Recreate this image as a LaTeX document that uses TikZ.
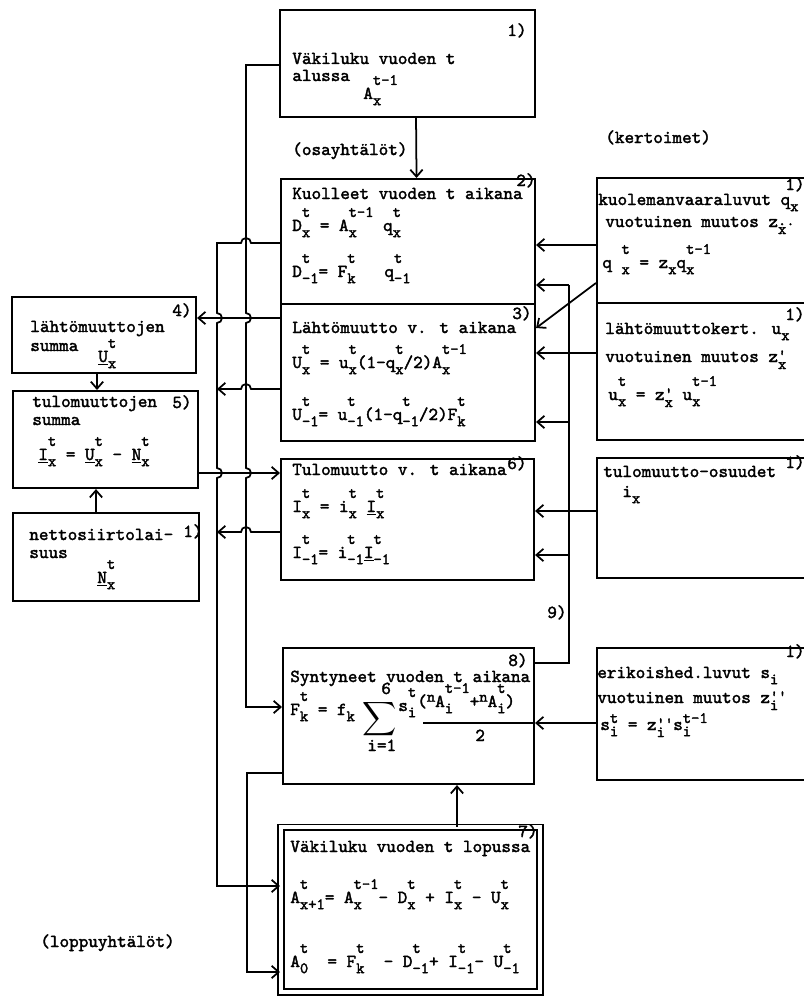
\documentclass[tikz,border=0pt]{standalone}
\usetikzlibrary{arrows.meta}

\font\kirj="[lmmono10-regular]:embolden=2" at 10.4pt
\font\kirjp="[lmmono10-regular]:embolden=2" at 9pt
\newcommand\tyyli{\kirj}
% ylä- ja alaindeksi päällekkäin
\newcommand\skripti[4]{%
  \setbox0=\hbox{\kirjp\raisebox{#1}{#3}}%
  \setbox2=\hbox{\kirjp\raisebox{-#2}{#4}}%
  \ifdim\wd0>\wd2 \rlap{\box2}\box0 \else \rlap{\box0}\box2 \fi}
\newcommand\su{\skripti{8pt}{3.5pt}}
\newcommand\pr[2]{\skripti{1pt}{4pt}{#1}{#2}}

\tikzset{
  laatikko/.style={draw,rectangle,line width=1.2pt,anchor=north west,inner sep=0pt},
  rivi/.style={anchor=base west,inner sep=0pt,font=\tyyli},
  viiva/.style={line width=1pt},
  nuoli/.style={viiva,-{Straight Barb[length=4pt,width=7pt]}}
}

\begin{document}
\begin{tikzpicture}[x=0.02cm,y=-0.02cm]
\useasboundingbox (0,0) rectangle (804,997);
\clip (0,0) rectangle (804,997);

% osayhtalot
\node[laatikko,minimum width=5.10cm,minimum height=2.14cm] (alku) at (279,9) {};
\node[laatikko,minimum width=5.08cm,minimum height=2.50cm] (kuol) at (280,178) {};
\node[laatikko,minimum width=5.08cm,minimum height=2.74cm] (lahto) at (280,303) {};
\node[laatikko,minimum width=5.06cm,minimum height=2.42cm] (tulo) at (280,458) {};
\node[laatikko,minimum width=5.02cm,minimum height=2.72cm] (synt) at (282,647) {};
\node[laatikko,line width=1pt,double,double distance=2.4pt,minimum width=5.18cm,minimum height=3.30cm] (loppu) at (280,826.5) {};

% summat vasemmalla
\node[laatikko,minimum width=3.68cm,minimum height=1.52cm] (lsum) at (11,296) {};
\node[laatikko,minimum width=3.70cm,minimum height=1.94cm] (tsum) at (12,390) {};
\node[laatikko,minimum width=3.72cm,minimum height=1.76cm] (netto) at (12,512) {};

% kertoimet oikealla
\node[laatikko,minimum width=4.24cm,minimum height=2.50cm] (qbox) at (596,177) {};
\node[laatikko,minimum width=4.24cm,minimum height=2.74cm] (ubox) at (596,302) {};
\node[laatikko,minimum width=4.24cm,minimum height=2.40cm] (ibox) at (596,457) {};
\node[laatikko,minimum width=4.24cm,minimum height=2.64cm] (sbox) at (596,647) {};

% otsikot
\node[rivi] (osa) at (292,155) {(osayhtälöt)};
\node[rivi] (kert) at (605,143) {(kertoimet)};
\node[rivi] (loppuyht) at (40,947) {(loppuyhtälöt)};
\node[rivi] (yhd9) at (547,618) {9)};

% tekstit
\node[rivi] (alku-nro) at (507,36) {1)};
\node[rivi] (alku-r1) at (292,64) {Väkiluku vuoden t};
\node[rivi] (alku-r2) at (292,81) {alussa};
\node[rivi] (alku-r3) at (363,99) {A\su{t-1}{x}};

\node[rivi] (kuol-nro) at (516,186) {2)};
\node[rivi] (kuol-r1) at (292,199) {Kuolleet vuoden t aikana};
\node[rivi] (kuol-r2) at (292,231) {D\su{t}{x} = A\su{t-1}{x} q\su{t}{x}};
\node[rivi] (kuol-r3) at (292,277) {D\su{t}{-1}= F\su{t}{k}\ \ \ q\su{t}{-1}};

\node[rivi] (lahto-nro) at (512,319) {3)};
\node[rivi] (lahto-r1) at (292,333) {Lähtömuutto v. t aikana};
\node[rivi] (lahto-r2) at (292,368) {U\su{t}{x} = u\su{t}{x}(1-q\su{t}{x}/2)A\su{t-1}{x}};
\node[rivi] (lahto-r3) at (292,420) {U\su{t}{-1}= u\su{t}{-1}(1-q\su{t}{-1}/2)F\su{t}{k}};

\node[rivi] (tulo-nro) at (507,469) {6)};
\node[rivi] (tulo-r1) at (292,475) {Tulomuutto v. t aikana};
\node[rivi] (tulo-r2) at (292,512) {I\su{t}{x} = i\su{t}{x} \underline{I}\su{t}{x}};
\node[rivi] (tulo-r3) at (292,558) {I\su{t}{-1}= i\su{t}{-1}\underline{I}\su{t}{-1}};

\node[rivi] (synt-nro) at (508,666) {8)};
\node[rivi] (synt-r1) at (290,682) {Syntyneet vuoden t aikana};
\node[rivi] (synt-r2) at (290,715) {F\su{t}{k} = f\su{}{k}};
\node[scale=1.35,inner sep=0pt] (synt-sum) at (380,719) {$\displaystyle\sum$};
\node[rivi] (synt-yla) at (381,694) {6};
\node[rivi] (synt-ala) at (367,751) {i=1};
\node[rivi] (synt-s) at (398,711) {s\su{t}{i}};
\node[rivi] (synt-os) at (417,707) {(\skripti{3pt}{0pt}{n}{}A\su{t-1}{i}+\skripti{3pt}{0pt}{n}{}A\su{t}{i})};
\node[rivi] (synt-nim) at (475,741) {2};
\draw[viiva] (423,723) -- (synt.east |- 0,723);

\node[rivi] (loppu-nro) at (518,837) {7)};
\node[rivi] (loppu-r1) at (290,852) {Väkiluku vuoden t lopussa};
\node[rivi] (loppu-r2) at (290,903) {A\su{t}{x+1}= A\su{t-1}{x}- D\su{t}{x} + I\su{t}{x} - U\su{t}{x}};
\node[rivi] (loppu-r3) at (290,967) {A\su{t}{0}\ \ = F\su{t}{k}\ \ - D\su{t}{-1}+ I\su{t}{-1}- U\su{t}{-1}};

\node[rivi] (lsum-nro) at (172,316) {4)};
\node[rivi] (lsum-r1) at (30,332) {lähtömuuttojen};
\node[rivi] (lsum-r2) at (30,351) {summa};
\node[rivi] (lsum-r3) at (98,362) {\underline{U}\su{t}{x}};

\node[rivi] (tsum-nro) at (172,408) {5)};
\node[rivi] (tsum-r1) at (32,407) {tulomuuttojen};
\node[rivi] (tsum-r2) at (32,425) {summa};
\node[rivi] (tsum-r3) at (38,460) {\underline{I}\su{t}{x} = \underline{U}\su{t}{x} - \underline{N}\su{t}{x}};

\node[rivi] (netto-nro) at (183,537) {1)};
\node[rivi] (netto-r1) at (29,540) {nettosiirtolai-};
\node[rivi] (netto-r2) at (29,558) {suus};
\node[rivi] (netto-r3) at (97,583) {\underline{N}\su{t}{x}};

\node[rivi] (qbox-nro) at (785,190) {1)};
\node[rivi] (qbox-r1) at (598,205) {kuolemanvaaraluvut q\su{}{x}};
\node[rivi] (qbox-r2) at (605,227) {vuotuinen muutos z\pr{..}{x}};
\node[rivi] (qbox-r3) at (602,268) {q\ \su{t}{x} = z\su{}{x}q\su{t-1}{x}};

\node[rivi] (ubox-nro) at (785,320) {1)};
\node[rivi] (ubox-r1) at (605,334) {lähtömuuttokert. u\su{}{x}};
\node[rivi] (ubox-r2) at (605,362) {vuotuinen muutos z\pr{'}{x}};
\node[rivi] (ubox-r3) at (608,400) {u\su{t}{x} = z\pr{'}{x} u\su{t-1}{x}};

\node[rivi] (ibox-nro) at (785,468) {1)};
\node[rivi] (ibox-r1) at (603,477) {tulomuutto-osuudet};
\node[rivi] (ibox-r2) at (622,497) {i\su{}{x}};

\node[rivi] (sbox-nro) at (785,657) {1)};
\node[rivi] (sbox-r1) at (597,678) {erikoished.luvut s\su{}{i}};
\node[rivi] (sbox-r2) at (597,703) {vuotuinen muutos z\pr{''}{i}};
\node[rivi] (sbox-r3) at (600,730) {s\skripti{4pt}{3.5pt}{t}{i} = z\pr{''}{i}s\skripti{4pt}{3.5pt}{t-1}{i}};

% yhteydet keskella
\draw[nuoli] ([xshift=0.17cm]alku.south) -- ([xshift=0.17cm]kuol.north);
\draw[nuoli] (loppu.north -| 457,0) -- (synt.south -| 457,0);

% kertoimista
\draw[nuoli] (qbox.west |- 0,245) -- (kuol.east |- 0,245);
\draw[nuoli] (qbox.west |- 0,283) -- (lahto.east |- 0,328);
\draw[nuoli] (ubox.west |- 0,353) -- (lahto.east |- 0,353);
\draw[nuoli] (ibox.west |- 0,511) -- (tulo.east |- 0,511);
\draw[nuoli] (sbox.west |- 0,723) -- (synt.east |- 0,723);

% syntyneet takaisin (9)
\coordinate (palaute) at (569,285);
\draw[viiva] (synt.east |- 0,663) -| (palaute);
\draw[nuoli] (palaute) -- (palaute -| kuol.east);
\draw[nuoli] (palaute |- 0,422) -- (lahto.east |- 0,422);
\draw[nuoli] (palaute |- 0,555) -- (tulo.east |- 0,555);

% vasemmat pystylinjat
\draw[nuoli] (alku.west |- 0,65) -- (246,65) -- (246,313)
  arc[start angle=90,end angle=-90,radius=0.1cm] -- (246,468)
  arc[start angle=90,end angle=-90,radius=0.1cm] -- (246,707) -- (synt.west |- 0,707);
\draw[nuoli] (kuol.west |- 0,243) -- (251,243)
  arc[start angle=0,end angle=180,radius=0.1cm] -- (217,243) -- (217,313)
  arc[start angle=90,end angle=-90,radius=0.1cm] -- (217,468)
  arc[start angle=90,end angle=-90,radius=0.1cm] -- (217,886) -- (loppu.west |- 0,886);
\draw[nuoli] (synt.west |- 0,773) -- (247,773) -- (247,972) -- (loppu.west |- 0,972);

% lahto- ja tulomuutto
\draw[nuoli] (lahto.west |- 0,318) -- (lsum.east |- 0,318);
\draw[nuoli] (lahto.west |- 0,389) -- (251,389)
  arc[start angle=0,end angle=180,radius=0.1cm] -- (217,389);
\draw[nuoli] (tsum.east |- 0,473) -- (tulo.west |- 0,473);
\draw[nuoli] (tulo.west |- 0,532) -- (251,532)
  arc[start angle=0,end angle=180,radius=0.1cm] -- (217,532);
\draw[nuoli] (lsum.south -| 97,0) -- (tsum.north -| 97,0);
\draw[nuoli] (netto.north -| 96,0) -- (tsum.south -| 96,0);

\end{tikzpicture}
\end{document}
